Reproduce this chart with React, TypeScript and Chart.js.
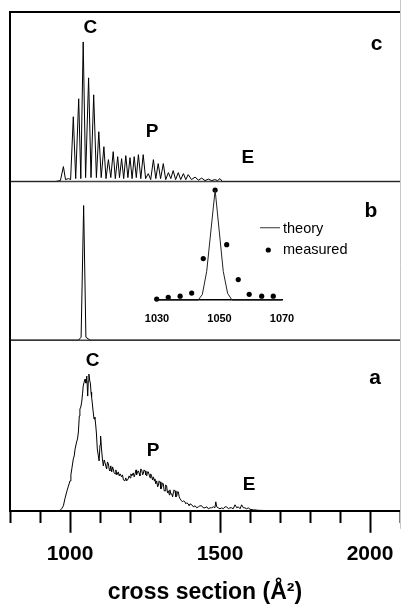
import { useEffect, useRef } from 'react';
import { Chart, registerables } from 'chart.js';
Chart.register(...registerables);

const FONT = '"Liberation Sans", Arial, Helvetica, sans-serif';

// shared x axis (cross section, Å²)
const X_MIN = 800;
const X_MAX = 2100;
const X_STEP = 100;
const X_LABELED = [1000, 1500, 2000];
const X_TITLE = 'cross section (Å²)';

// panel c: calculated distribution (arbitrary intensity)
const cX = [800, 950, 968, 978, 985, 995, 1002, 1011, 1019, 1029, 1036, 1044, 1052, 1062, 1070, 1079, 1088, 1096, 1104, 1113, 1120, 1128, 1136, 1144, 1151, 1159, 1165, 1172, 1179, 1186, 1193, 1200, 1207, 1214, 1221, 1228, 1236, 1244, 1252, 1261, 1269, 1278, 1286, 1294, 1302, 1311, 1319, 1328, 1336, 1344, 1352, 1361, 1369, 1378, 1386, 1394, 1405, 1417, 1428, 1439, 1450, 1461, 1472, 1483, 1492, 1500, 1508, 2100];
const cY = [0, 0, 1, 15, 2, 3, 2, 65, 3, 83, 3, 140, 4, 104, 4, 87, 4, 50, 4, 35, 3, 22, 4, 30, 3, 25, 4, 23, 3, 26, 4, 24, 3, 25, 4, 27, 3, 27, 3, 8, 2, 22, 3, 18, 3, 18, 2, 9, 3, 11, 2, 9, 2, 8, 2, 7, 2, 4.5, 1.5, 3.5, 1, 2.5, 1, 2, 1, 3, 0, 0];

// panel b: theory peak
const bX = [800, 1028, 1037, 1045.5, 1053, 1067, 2100];
const bY = [0, 0, 3, 135, 3, 0, 0];

// panel a: measured distribution
const aX = [800, 960, 967, 972, 978, 983, 989, 994, 1000, 1003, 1006, 1011, 1014, 1017, 1022, 1025, 1028, 1031, 1033, 1036, 1039, 1042, 1044, 1047, 1050, 1053, 1056, 1059, 1061, 1063, 1066, 1068, 1070, 1072, 1074, 1077, 1080, 1083, 1086, 1088, 1091, 1094, 1097, 1100, 1102, 1105, 1108, 1111, 1114, 1117, 1120, 1122, 1125, 1128, 1131, 1133, 1136, 1139, 1142, 1144, 1147, 1150, 1153, 1156, 1161, 1164, 1167, 1172, 1175, 1178, 1183, 1186, 1189, 1194, 1197, 1200, 1203, 1206, 1211, 1214, 1217, 1220, 1222, 1225, 1228, 1231, 1233, 1236, 1239, 1242, 1244, 1247, 1250, 1253, 1256, 1258, 1261, 1264, 1267, 1269, 1272, 1275, 1278, 1281, 1283, 1286, 1289, 1292, 1294, 1297, 1300, 1303, 1306, 1308, 1311, 1314, 1317, 1319, 1322, 1325, 1328, 1331, 1333, 1336, 1339, 1342, 1345, 1347, 1350, 1353, 1356, 1358, 1361, 1364, 1367, 1372, 1375, 1378, 1383, 1386, 1389, 1394, 1397, 1400, 1406, 1411, 1417, 1422, 1428, 1433, 1439, 1444, 1450, 1456, 1461, 1467, 1472, 1478, 1483, 1486, 1489, 1494, 1500, 1506, 1511, 1517, 1522, 1528, 1533, 1539, 1544, 1550, 1556, 1561, 1567, 1572, 1578, 1583, 1589, 1594, 1600, 1611, 1628, 1650, 1678, 2100];
const aY = [0, 0, 0.5, 2, 5, 12, 19, 24, 30, 36, 42, 52, 55, 62, 69, 72, 79, 95, 102, 104, 109, 118, 125, 129, 132, 128, 135, 115, 130, 137, 130, 128, 119, 114, 109, 100, 92, 94, 85, 78, 62, 56, 50, 66, 75, 62, 52, 45, 51, 48, 44, 42, 49, 47, 41, 40, 45, 39, 44, 42, 38, 37, 41, 36, 39, 35, 37, 34, 36, 31, 30, 33, 30, 32, 35, 33, 37, 35, 38, 34, 37, 41, 36, 39, 40, 37, 35, 42, 41, 36, 37, 41, 40, 36, 35, 39, 39, 36, 33, 37, 35, 31, 34, 30, 32, 27, 30, 24, 25, 30, 29, 22, 24, 28, 27, 20, 20, 26, 25, 18, 20, 16, 21, 17, 17, 14, 19, 21, 20, 14, 15, 19, 19, 14, 12, 10, 9, 10, 9, 7, 8, 7, 5, 7, 6, 4, 5, 3, 4, 5, 5, 3, 3, 4, 2, 3, 3, 4, 3, 9, 4, 3, 2, 3, 2, 4, 4, 2, 3, 3, 2, 6, 3, 4, 2, 6, 3, 3, 2, 3, 1.5, 1, 0.5, 0.3, 0, 0];

// panel full-scale intensities
const C_MAX = 170;
const B_MAX = 159;
const A_MAX = 171;

// inset: theory vs measured around 1050
const INSET_MIN = 1030;
const INSET_MAX = 1070;
const INSET_TICKS = [1030, 1050, 1070];
const theoryX = [1030, 1043.2, 1044.5, 1045.9, 1048.6, 1051.2, 1052.6, 1054, 1070];
const theoryY = [0, 0, 0.05, 0.26, 1.0, 0.26, 0.06, 0, 0];
const measuredX = [1029.9, 1033.6, 1037.4, 1041.1, 1044.8, 1048.6, 1052.3, 1056.0, 1059.5, 1063.5, 1067.2];
const measuredY = [0.008, 0.025, 0.035, 0.063, 0.377, 1.0, 0.503, 0.186, 0.052, 0.035, 0.035];
const LEGEND_LABELS = ['theory', 'measured'];

// annotations: text, x value, panel axis, y value
const ANNOTATIONS = [
  { text: 'C', x: 1068, axis: 'yc', y: 154, size: 19 },
  { text: 'P', x: 1274, axis: 'yc', y: 49.5, size: 19 },
  { text: 'E', x: 1593, axis: 'yc', y: 24, size: 19 },
  { text: 'c', x: 2022, axis: 'yc', y: 138, size: 21 },
  { text: 'b', x: 2003, axis: 'yb', y: 129, size: 21 },
  { text: 'a', x: 2017, axis: 'ya', y: 133, size: 21 },
  { text: 'C', x: 1075, axis: 'ya', y: 150, size: 19 },
  { text: 'P', x: 1277, axis: 'ya', y: 60, size: 19 },
  { text: 'E', x: 1597, axis: 'ya', y: 26, size: 19 },
];

const toPts = (xs: number[], ys: number[]) => xs.map((x, i) => ({ x, y: ys[i] }));

const framePlugin = {
  id: 'frame',
  beforeDatasetsDraw(chart: any) {
    const { ctx, chartArea, scales } = chart;
    const { left, right } = chartArea;
    ctx.save();
    ctx.strokeStyle = '#444';
    ctx.lineWidth = 1.5;
    for (const id of ['yc', 'yb']) {
      const y = scales[id].bottom;
      ctx.beginPath();
      ctx.moveTo(left, y);
      ctx.lineTo(right, y);
      ctx.stroke();
    }
    ctx.restore();
  },
  afterDraw(chart: any) {
    const { ctx, chartArea, scales } = chart;
    const { left, right, top, bottom } = chartArea;
    ctx.save();
    ctx.strokeStyle = '#000';
    ctx.lineWidth = 2;
    ctx.beginPath();
    ctx.moveTo(left, bottom);
    ctx.lineTo(left, top);
    ctx.lineTo(right, top);
    ctx.stroke();
    ctx.strokeStyle = '#c8c8c8';
    ctx.lineWidth = 1;
    ctx.beginPath();
    ctx.moveTo(chart.width - 0.5, 0);
    ctx.lineTo(chart.width - 0.5, bottom + 18);
    ctx.stroke();
    ctx.fillStyle = '#000';
    ctx.textAlign = 'center';
    ctx.textBaseline = 'middle';
    for (const a of ANNOTATIONS) {
      ctx.font = `bold ${a.size}px ${FONT}`;
      ctx.fillText(a.text, scales.x.getPixelForValue(a.x), scales[a.axis].getPixelForValue(a.y));
    }
    ctx.restore();
  },
};

const insetLegendPlugin = {
  id: 'insetLegend',
  afterDraw(chart: any) {
    const { ctx } = chart;
    ctx.save();
    ctx.font = `14.5px ${FONT}`;
    ctx.fillStyle = '#000';
    ctx.textAlign = 'left';
    ctx.textBaseline = 'middle';
    ctx.strokeStyle = '#555';
    ctx.lineWidth = 1.2;
    ctx.beginPath();
    ctx.moveTo(150, 44.7);
    ctx.lineTo(170, 44.7);
    ctx.stroke();
    ctx.fillText(LEGEND_LABELS[0], 173, 45.5);
    ctx.beginPath();
    ctx.arc(158.3, 67, 2.6, 0, Math.PI * 2);
    ctx.fill();
    ctx.fillText(LEGEND_LABELS[1], 173, 66.5);
    ctx.restore();
  },
};

export default function App() {
  const mainRef = useRef<HTMLCanvasElement>(null);
  const insetRef = useRef<HTMLCanvasElement>(null);

  useEffect(() => {
    Chart.defaults.color = '#000';
    const lineStyle = { borderColor: '#000', borderWidth: 1, pointRadius: 0, tension: 0, fill: false, xAxisID: 'x' };
    const main = new Chart(mainRef.current!, {
      type: 'line',
      data: {
        datasets: [
          { ...lineStyle, label: 'c', yAxisID: 'yc', data: toPts(cX, cY) },
          { ...lineStyle, label: 'b', yAxisID: 'yb', data: toPts(bX, bY) },
          { ...lineStyle, label: 'a', yAxisID: 'ya', data: toPts(aX, aY) },
        ],
      },
      options: {
        animation: false,
        responsive: false,
        devicePixelRatio: 1,
        layout: { padding: { left: 10, right: 1, top: 12, bottom: 0 } },
        plugins: { legend: { display: false }, tooltip: { enabled: false } },
        scales: {
          x: {
            type: 'linear',
            min: X_MIN,
            max: X_MAX,
            afterFit: (s: any) => { s.paddingLeft = 0; s.paddingRight = 0; },
            ticks: {
              stepSize: X_STEP,
              autoSkip: false,
              maxRotation: 0,
              padding: 9,
              font: { family: FONT, size: 21, weight: 'bold' },
              callback: (v: any) => (X_LABELED.includes(Number(v)) ? String(v) : ''),
            },
            grid: {
              drawOnChartArea: false,
              tickLength: 22,
              tickWidth: 2,
              tickColor: '#000',
              tickBorderDash: (ctx: any) => (ctx.tick && X_LABELED.includes(ctx.tick.value) ? [] : [11, 40]),
            },
            border: { display: true, color: '#000', width: 2 },
            title: {
              display: true,
              text: X_TITLE,
              font: { family: FONT, size: 23, weight: 'bold' },
              padding: { top: 2.4, bottom: 0 },
            },
          },
          ya: { display: false, min: 0, max: A_MAX, stack: 'panels', stackWeight: A_MAX },
          yb: { display: false, min: 0, max: B_MAX, stack: 'panels', stackWeight: B_MAX },
          yc: { display: false, min: 0, max: C_MAX, stack: 'panels', stackWeight: C_MAX },
        },
      } as any,
      plugins: [framePlugin],
    });

    const inset = new Chart(insetRef.current!, {
      type: 'line',
      data: {
        datasets: [
          { label: LEGEND_LABELS[0], data: toPts(theoryX, theoryY), borderColor: '#222', borderWidth: 1, pointRadius: 0, tension: 0, clip: false },
          { label: LEGEND_LABELS[1], data: toPts(measuredX, measuredY), showLine: false, pointRadius: 2.6, pointBackgroundColor: '#000', pointBorderWidth: 0, clip: false },
        ],
      },
      options: {
        animation: false,
        responsive: false,
        devicePixelRatio: 1,
        layout: { padding: { left: 47, right: 88, top: 7, bottom: 2.8 } },
        plugins: { legend: { display: false }, tooltip: { enabled: false } },
        scales: {
          x: {
            type: 'linear',
            min: INSET_MIN,
            max: INSET_MAX,
            afterBuildTicks: (s: any) => { s.ticks = INSET_TICKS.map((v) => ({ value: v })); },
            ticks: { autoSkip: false, maxRotation: 0, padding: 12, font: { family: FONT, size: 11, weight: 'bold' }, callback: (v: any) => String(v) },
            grid: { display: false, drawTicks: false },
            border: { display: true, color: '#000', width: 1.5 },
          },
          y: { display: false, min: 0, max: 1 },
        },
      } as any,
      plugins: [insetLegendPlugin],
    });

    return () => { main.destroy(); inset.destroy(); };
  }, []);

  return (
    <div style={{ position: 'fixed', left: 0, top: 0, width: 401, height: 606, background: '#fff' }}>
      <canvas ref={mainRef} width={401} height={606} style={{ position: 'absolute', left: 0, top: 0, width: 401, height: 606 }} />
      <canvas ref={insetRef} width={260} height={157} style={{ position: 'absolute', left: 110, top: 183, width: 260, height: 157 }} />
    </div>
  );
}
